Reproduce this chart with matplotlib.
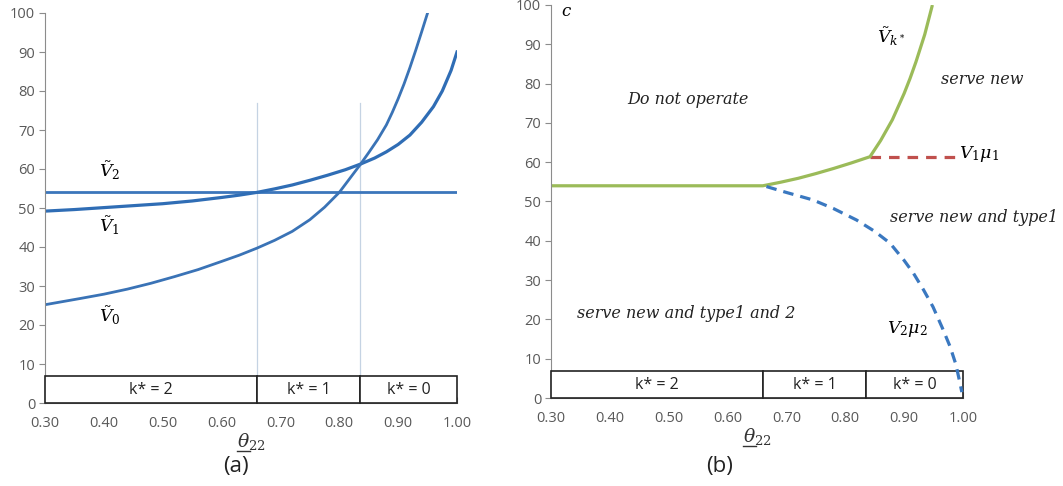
import matplotlib
matplotlib.use("Agg")
import matplotlib.pyplot as plt
from matplotlib.patches import Rectangle
from matplotlib.lines import Line2D

plt.rcParams['mathtext.fontset'] = 'dejavuserif'

# ---------------- data ----------------
theta_v0 = [0.30, 0.33, 0.36, 0.40, 0.44, 0.48, 0.52, 0.56, 0.60, 0.63, 0.66, 0.69, 0.72,
            0.75, 0.775, 0.80, 0.81, 0.82, 0.835, 0.85, 0.865, 0.88, 0.89, 0.90, 0.91,
            0.92, 0.93, 0.94, 0.95]
v0 = [25.2, 26.0, 26.8, 27.9, 29.2, 30.7, 32.4, 34.2, 36.3, 37.9, 39.7, 41.7, 44.0,
      47.0, 50.2, 54.0, 56.0, 58.0, 61.0, 64.2, 67.5, 71.3, 74.5, 78.0, 81.8,
      86.0, 90.5, 95.2, 100.0]

theta_v1 = [0.30, 0.35, 0.40, 0.45, 0.50, 0.55, 0.60, 0.63, 0.66, 0.69, 0.72, 0.75, 0.78,
            0.81, 0.835, 0.86, 0.88, 0.90, 0.92, 0.94, 0.96, 0.975, 0.99, 1.00]
v1 = [49.2, 49.6, 50.1, 50.6, 51.1, 51.8, 52.7, 53.3, 54.0, 54.9, 55.9, 57.1, 58.4,
      59.8, 61.2, 62.8, 64.4, 66.3, 68.7, 72.0, 76.0, 80.0, 85.3, 90.0]

theta_v2 = [0.30, 1.00]
v2 = [54.0, 54.0]

# panel (b)
theta_green = [0.30, 0.66, 0.69, 0.72, 0.75, 0.78, 0.81, 0.842, 0.86, 0.88, 0.90,
               0.91, 0.92, 0.935, 0.948]
green = [54.0, 54.0, 54.9, 55.9, 57.1, 58.4, 59.8, 61.4, 65.5, 70.8, 77.5,
         81.3, 85.5, 92.5, 100.0]

theta_red = [0.842, 0.99]
red = [61.4, 61.4]

theta_blue = [0.666, 0.70, 0.745, 0.78, 0.819, 0.85, 0.876, 0.90, 0.916, 0.933, 0.949,
              0.965, 0.978, 0.988, 0.995, 0.998]
blue = [53.8, 52.3, 50.4, 48.2, 45.3, 42.4, 39.4, 35.0, 31.7, 27.5, 23.2,
        17.8, 13.1, 8.5, 3.7, 1.5]

k_bounds = [0.30, 0.66, 0.835, 1.00]
k_labels = ["k* = 2", "k* = 1", "k* = 0"]
box_top = 6.8
vline_top = 77

x_ticks = [0.30, 0.40, 0.50, 0.60, 0.70, 0.80, 0.90, 1.00]
y_ticks = [0, 10, 20, 30, 40, 50, 60, 70, 80, 90, 100]

# ---------------- figure ----------------
fig = plt.figure(figsize=(10.63, 4.86), dpi=100)
axA = fig.add_axes([45/1063, 83/486, 412/1063, 390/486])
axB = fig.add_axes([551/1063, 88/486, 412/1063, 393/486])

gray = '#8c8c8c'
tickc = '#595959'
tfont = 'Open Sans'

xlabels = []
for ax in (axA, axB):
    ax.set_xlim(0.30, 1.00)
    ax.set_ylim(0, 100)
    for s in ('top', 'right'):
        ax.spines[s].set_visible(False)
    ax.spines['left'].set_color(gray)
    ax.spines['bottom'].set_color(gray)
    ax.spines['left'].set_linewidth(0.8)
    ax.spines['bottom'].set_linewidth(0.8)
    ax.set_xticks(x_ticks)
    ax.set_xticklabels([f"{t:.2f}" for t in x_ticks])
    ax.set_yticks(y_ticks)
    ax.set_yticklabels([str(t) for t in y_ticks])
    ax.tick_params(axis='both', colors=gray, labelcolor=tickc, length=4, width=0.8,
                   labelsize=10.5)
    ax.tick_params(axis='x', direction='in', pad=9.5)
    ax.tick_params(axis='y', pad=3)
    for lab in ax.get_xticklabels() + ax.get_yticklabels():
        lab.set_family(tfont)
    # k* boxes
    for i in range(3):
        x0, x1 = k_bounds[i], k_bounds[i + 1]
        ax.add_patch(Rectangle((x0, 0), x1 - x0, box_top, facecolor='white',
                               edgecolor='#222222', lw=1.2, zorder=3, clip_on=False))
        ax.text((x0 + x1) / 2, box_top / 2, k_labels[i], ha='center', va='center',
                fontsize=11.5, family=tfont, color='#222222', zorder=4)
    xl = ax.set_xlabel(r"$\theta_{22}$", fontsize=13.5, labelpad=0, color='#333333')
    xlabels.append(xl)

# ---------------- panel (a) ----------------
blue_c = '#2f6db5'
for xb in k_bounds[1:3]:
    axA.plot([xb, xb], [box_top, vline_top], color='#c5d3e3', lw=0.9, zorder=1)
axA.plot(theta_v2, v2, color='#3b76bb', lw=2.0, zorder=2)
axA.plot(theta_v1, v1, color=blue_c, lw=2.3, zorder=2)
axA.plot(theta_v0, v0, color='#3a73b6', lw=2.0, zorder=2)
axA.text(0.41, 59.5, r"$\tilde{V}_2$", fontsize=12.5, ha='center', va='center')
axA.text(0.41, 45.5, r"$\tilde{V}_1$", fontsize=12.5, ha='center', va='center')
axA.text(0.41, 22.5, r"$\tilde{V}_0$", fontsize=12.5, ha='center', va='center')
fig.text(236/1063, 1 - 466/486, "(a)", fontsize=16, ha='center', va='center',
         family=tfont, color='#222222')

# ---------------- panel (b) ----------------
axB.plot(theta_blue, blue, color='#3a78c0', lw=2.3, dashes=(3.3, 2.2), zorder=5, clip_on=False)
axB.plot(theta_red, red, color='#c0504d', lw=2.3, dashes=(3.3, 2.5), zorder=2)
axB.plot(theta_green, green, color='#9bbb59', lw=2.3, zorder=2, solid_capstyle='butt')

sfont = dict(family='DejaVu Serif', style='italic', fontsize=11.5, color='#222222')
axB.text(0.43, 76, "Do not operate", ha='left', va='center', **sfont)
axB.text(0.962, 81, "serve new", ha='left', va='center', clip_on=False, **sfont)
axB.text(0.876, 46, "serve new and type1", ha='left', va='center', clip_on=False, **sfont)
axB.text(0.345, 21.5, "serve new and type1 and 2", ha='left', va='center', **sfont)
axB.text(0.906, 17.5, r"$V_2\mu_2$", fontsize=12.5, ha='center', va='center')
axB.text(0.993, 62, r"$V_1\mu_1$", fontsize=12.5, ha='left', va='center', clip_on=False)
axB.text(0.878, 92, r"$\tilde{V}_{k^*}$", fontsize=12.5, ha='center', va='center')
axB.text(0.326, 98.6, r"$c$", fontsize=12, ha='center', va='center', clip_on=False)
fig.text(720/1063, 1 - 466/486, "(b)", fontsize=16, ha='center', va='center',
         family=tfont, color='#222222')

# underline the theta of the x labels
fig.canvas.draw()
r = fig.canvas.get_renderer()
for xl in xlabels:
    bb = xl.get_window_extent(r)
    x0 = bb.x0 / fig.bbox.width
    x1 = (bb.x0 + bb.width * 0.48) / fig.bbox.width
    yb = (bb.y0 + 1) / fig.bbox.height
    fig.add_artist(Line2D([x0, x1], [yb, yb], color='#333333', lw=1.0))

fig.savefig("out.png", dpi=100)
